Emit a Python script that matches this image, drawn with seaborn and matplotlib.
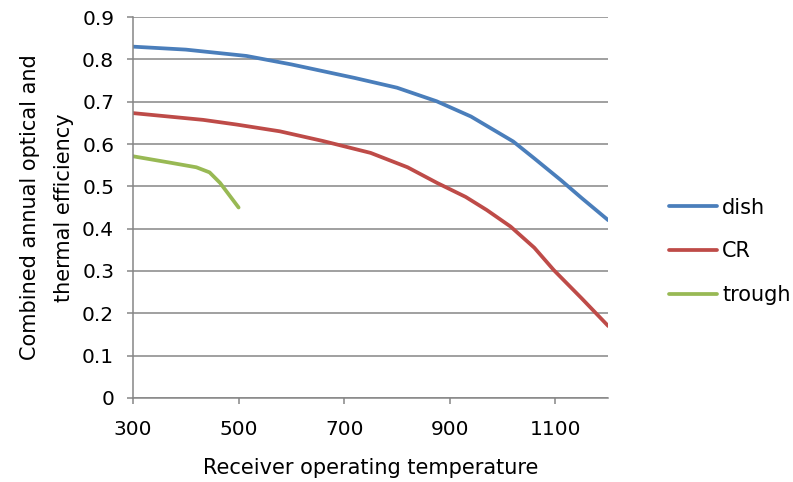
import numpy as np
import pandas as pd
import matplotlib
matplotlib.use("Agg")
import matplotlib.pyplot as plt
import seaborn as sns

# values
dish_temp = [300, 400, 515, 600, 720, 800, 875, 940, 1020, 1060, 1110, 1150, 1200]
dish_eff = [0.830, 0.823, 0.808, 0.788, 0.756, 0.733, 0.701, 0.665, 0.606, 0.566, 0.515, 0.472, 0.420]

cr_temp = [300, 433, 496, 578, 660, 750, 820, 876, 930, 970, 1015, 1060, 1097, 1150, 1200]
cr_eff = [0.673, 0.657, 0.646, 0.630, 0.607, 0.579, 0.545, 0.508, 0.475, 0.444, 0.405, 0.355, 0.302, 0.235, 0.170]

trough_temp = [300, 370, 420, 445, 465, 500]
trough_eff = [0.571, 0.556, 0.545, 0.533, 0.508, 0.450]

series_names = ["dish", "CR", "trough"]
colors = ["#4A7EBB", "#BE4B48", "#98B954"]

df = pd.concat([
    pd.DataFrame({"temp": dish_temp, "eff": dish_eff, "series": "dish"}),
    pd.DataFrame({"temp": cr_temp, "eff": cr_eff, "series": "CR"}),
    pd.DataFrame({"temp": trough_temp, "eff": trough_eff, "series": "trough"}),
])

sns.set_style("white")
plt.rcParams['font.family'] = ['DejaVu Sans']
plt.rcParams['text.color'] = 'black'
plt.rcParams['axes.labelcolor'] = 'black'
plt.rcParams['xtick.labelcolor'] = 'black'
plt.rcParams['ytick.labelcolor'] = 'black'

fig = plt.figure(figsize=(7.93, 4.82), dpi=100)
ax = fig.add_axes([0.1677, 0.1743, 0.5993, 0.7904])

sns.lineplot(data=df, x="temp", y="eff", hue="series", hue_order=series_names,
             palette=colors, linewidth=2.7, ax=ax, sort=True, estimator=None)

ax.set_xlim(300, 1200)
ax.set_ylim(0, 0.9)
ax.set_xticks([300, 500, 700, 900, 1100])
ax.set_yticks(np.arange(0, 0.91, 0.1))
ax.set_yticklabels(["0"] + [f"{v:.1f}" for v in np.arange(0.1, 0.91, 0.1)])
ax.yaxis.grid(True, color="#868686", linewidth=1.1)
ax.set_axisbelow(True)

for s in ["top", "right"]:
    ax.spines[s].set_visible(False)
for s in ["left", "bottom"]:
    ax.spines[s].set_color("#868686")
    ax.spines[s].set_linewidth(1.1)

ax.tick_params(axis="both", which="major", labelsize=14.5, color="#868686",
               length=4.5, width=1.1, direction="out", left=True, bottom=True)
ax.tick_params(axis="x", pad=11)
ax.tick_params(axis="y", pad=9)

ax.set_xlabel("Receiver operating temperature", fontsize=15, labelpad=14)
ax.set_ylabel("Combined annual optical and\nthermal efficiency", fontsize=15,
              labelpad=6, linespacing=1.85)

ax.legend(title=None, frameon=False, fontsize=15, loc="center left",
          bbox_to_anchor=(1.128, 0.385), handlelength=2.3, labelspacing=1.14,
          handletextpad=0.25, borderpad=0, borderaxespad=0)

fig.savefig("out.png", dpi=100)
